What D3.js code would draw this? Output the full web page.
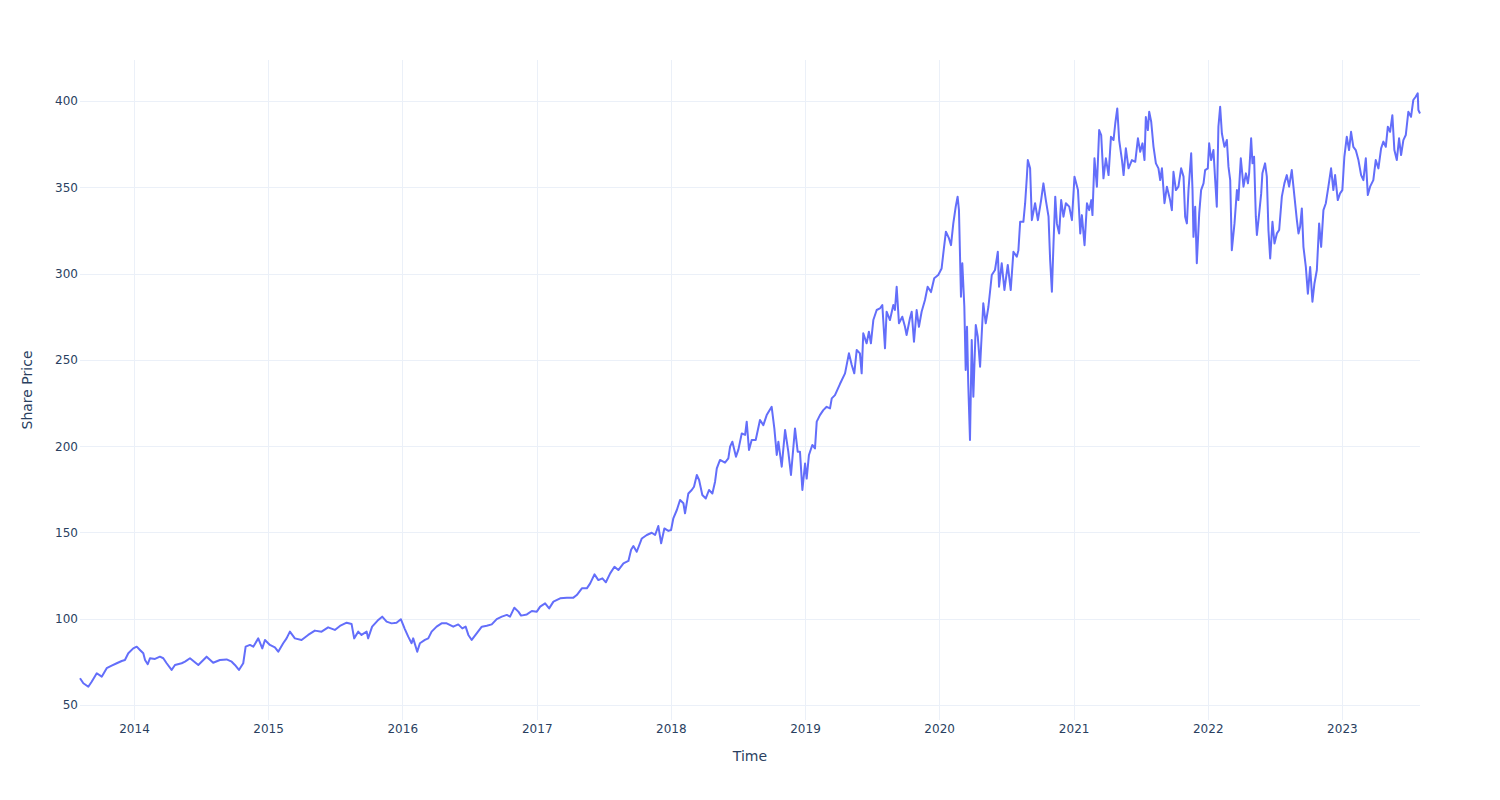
<!DOCTYPE html>
<html>
<head>
<meta charset="utf-8">
<script src="https://cdn.jsdelivr.net/npm/d3@7"></script>
<style>
  html, body { margin: 0; padding: 0; background: #fff; }
  svg { display: block; }
</style>
</head>
<body>
<svg id="chart" width="1500" height="800"></svg>
<script>
// Time as decimal years
const timeYears = [
  2013.590, 2013.615, 2013.652, 2013.677, 2013.715, 2013.752, 2013.789, 2013.826, 2013.864, 2013.901,
  2013.925, 2013.950, 2013.987, 2014.013, 2014.037, 2014.062, 2014.075, 2014.095, 2014.112, 2014.149,
  2014.186, 2014.211, 2014.236, 2014.273, 2014.298, 2014.348, 2014.373, 2014.410, 2014.472, 2014.534,
  2014.583, 2014.633, 2014.683, 2014.721, 2014.745, 2014.775, 2014.807, 2014.825, 2014.857, 2014.882,
  2014.919, 2014.949, 2014.969, 2015.006, 2015.043, 2015.068, 2015.105, 2015.130, 2015.155, 2015.192,
  2015.242, 2015.291, 2015.341, 2015.391, 2015.440, 2015.490, 2015.528, 2015.578, 2015.615, 2015.634,
  2015.664, 2015.689, 2015.727, 2015.738, 2015.768, 2015.809, 2015.843, 2015.876, 2015.913, 2015.950,
  2015.982, 2016.012, 2016.037, 2016.062, 2016.074, 2016.104, 2016.124, 2016.161, 2016.186, 2016.211,
  2016.248, 2016.285, 2016.323, 2016.372, 2016.409, 2016.439, 2016.464, 2016.484, 2016.509, 2016.546,
  2016.584, 2016.621, 2016.658, 2016.695, 2016.733, 2016.770, 2016.794, 2016.826, 2016.856, 2016.876,
  2016.919, 2016.956, 2016.993, 2017.018, 2017.055, 2017.085, 2017.117, 2017.167, 2017.217, 2017.266,
  2017.291, 2017.329, 2017.366, 2017.391, 2017.423, 2017.452, 2017.482, 2017.508, 2017.540, 2017.572,
  2017.601, 2017.639, 2017.676, 2017.696, 2017.713, 2017.738, 2017.776, 2017.813, 2017.850, 2017.875,
  2017.899, 2017.920, 2017.944, 2017.974, 2017.994, 2018.011, 2018.037, 2018.061, 2018.086, 2018.098,
  2018.123, 2018.148, 2018.165, 2018.186, 2018.203, 2018.227, 2018.253, 2018.277, 2018.302, 2018.322,
  2018.335, 2018.359, 2018.396, 2018.421, 2018.434, 2018.451, 2018.478, 2018.496, 2018.521, 2018.546,
  2018.558, 2018.575, 2018.595, 2018.625, 2018.657, 2018.682, 2018.707, 2018.744, 2018.764, 2018.782,
  2018.794, 2018.819, 2018.844, 2018.868, 2018.888, 2018.918, 2018.938, 2018.955, 2018.973, 2018.993,
  2019.005, 2019.022, 2019.047, 2019.067, 2019.080, 2019.104, 2019.129, 2019.154, 2019.179, 2019.192,
  2019.216, 2019.253, 2019.291, 2019.320, 2019.341, 2019.360, 2019.378, 2019.402, 2019.415, 2019.427,
  2019.452, 2019.469, 2019.484, 2019.502, 2019.527, 2019.551, 2019.569, 2019.589, 2019.601, 2019.626,
  2019.651, 2019.663, 2019.676, 2019.693, 2019.718, 2019.738, 2019.750, 2019.775, 2019.788, 2019.805,
  2019.825, 2019.842, 2019.862, 2019.887, 2019.907, 2019.932, 2019.956, 2019.986, 2020.011, 2020.028,
  2020.043, 2020.066, 2020.081, 2020.098, 2020.116, 2020.130, 2020.140, 2020.155, 2020.165, 2020.180,
  2020.190, 2020.200, 2020.209, 2020.222, 2020.235, 2020.247, 2020.265, 2020.280, 2020.297, 2020.321,
  2020.339, 2020.359, 2020.371, 2020.384, 2020.408, 2020.429, 2020.438, 2020.458, 2020.478, 2020.503,
  2020.525, 2020.545, 2020.570, 2020.582, 2020.595, 2020.619, 2020.632, 2020.645, 2020.652, 2020.669,
  2020.682, 2020.706, 2020.727, 2020.751, 2020.768, 2020.786, 2020.806, 2020.818, 2020.831, 2020.843,
  2020.856, 2020.868, 2020.885, 2020.900, 2020.917, 2020.935, 2020.960, 2020.980, 2020.999, 2021.025,
  2021.042, 2021.054, 2021.074, 2021.092, 2021.109, 2021.124, 2021.133, 2021.148, 2021.166, 2021.183,
  2021.198, 2021.215, 2021.233, 2021.253, 2021.271, 2021.290, 2021.303, 2021.318, 2021.332, 2021.353,
  2021.365, 2021.382, 2021.402, 2021.427, 2021.452, 2021.472, 2021.489, 2021.506, 2021.521, 2021.531,
  2021.546, 2021.556, 2021.571, 2021.588, 2021.606, 2021.625, 2021.638, 2021.651, 2021.670, 2021.688,
  2021.712, 2021.725, 2021.737, 2021.755, 2021.774, 2021.794, 2021.812, 2021.824, 2021.837, 2021.849,
  2021.869, 2021.879, 2021.886, 2021.899, 2021.911, 2021.929, 2021.943, 2021.961, 2021.973, 2021.993,
  2022.003, 2022.018, 2022.035, 2022.048, 2022.060, 2022.072, 2022.085, 2022.098, 2022.117, 2022.135,
  2022.147, 2022.160, 2022.172, 2022.192, 2022.210, 2022.221, 2022.239, 2022.259, 2022.277, 2022.292,
  2022.301, 2022.316, 2022.326, 2022.338, 2022.351, 2022.359, 2022.376, 2022.391, 2022.400, 2022.420,
  2022.433, 2022.445, 2022.458, 2022.475, 2022.490, 2022.508, 2022.525, 2022.545, 2022.564, 2022.582,
  2022.599, 2022.619, 2022.639, 2022.657, 2022.669, 2022.681, 2022.694, 2022.706, 2022.724, 2022.739,
  2022.756, 2022.773, 2022.788, 2022.806, 2022.823, 2022.838, 2022.855, 2022.873, 2022.892, 2022.912,
  2022.929, 2022.942, 2022.962, 2022.979, 2022.996, 2023.011, 2023.029, 2023.046, 2023.061, 2023.078,
  2023.096, 2023.116, 2023.136, 2023.153, 2023.171, 2023.186, 2023.203, 2023.227, 2023.245, 2023.265,
  2023.285, 2023.302, 2023.320, 2023.335, 2023.352, 2023.369, 2023.384, 2023.402, 2023.419, 2023.434,
  2023.451, 2023.469, 2023.488, 2023.508, 2023.525, 2023.543, 2023.558, 2023.563, 2023.575
];

// Share price values
const sharePrice = [
  65.5, 62.6, 60.6, 63.5, 68.4, 66.4, 71.3, 72.8, 74.2, 75.5,
  76.1, 80.0, 82.8, 83.8, 81.9, 80.0, 76.1, 73.6, 77.1, 76.7,
  78.0, 77.1, 74.2, 70.3, 73.2, 74.2, 75.1, 77.1, 73.2, 78.0,
  74.5, 76.1, 76.4, 75.1, 73.2, 70.3, 74.2, 83.8, 84.8, 83.8,
  88.6, 82.8, 87.7, 84.8, 83.4, 80.9, 85.8, 88.6, 92.5, 88.6,
  87.7, 90.6, 93.1, 92.5, 95.0, 93.5, 95.8, 97.7, 96.9, 88.6,
  92.5, 90.6, 92.5, 88.6, 95.4, 98.9, 101.2, 98.3, 97.3, 97.7,
  99.7, 94.0, 89.6, 85.8, 88.6, 80.9, 85.8, 87.7, 88.6, 92.5,
  95.4, 97.3, 97.3, 95.4, 96.7, 94.4, 95.4, 90.6, 87.7, 91.5,
  95.4, 95.9, 96.7, 99.8, 101.2, 102.2, 101.2, 106.4, 104.1, 101.8,
  102.5, 104.5, 104.1, 107.0, 108.9, 106.0, 109.9, 111.8, 112.2, 112.2,
  113.7, 117.6, 117.6, 120.5, 125.7, 122.4, 123.4, 121.1, 126.3, 130.1,
  128.2, 132.1, 133.5, 140.0, 142.1, 138.8, 146.5, 148.5, 149.8, 148.5,
  153.7, 143.7, 152.3, 150.9, 151.4, 158.2, 163.0, 168.8, 166.9, 161.1,
  172.6, 174.6, 176.5, 183.3, 180.4, 171.7, 169.7, 174.6, 172.6, 179.4,
  187.1, 192.0, 190.4, 192.9, 199.7, 202.6, 193.9, 198.0, 207.4, 206.5,
  214.2, 197.8, 203.6, 203.6, 215.2, 212.2, 218.0, 222.8, 210.3, 194.9,
  202.6, 188.1, 209.4, 196.8, 183.3, 210.3, 196.8, 196.8, 174.6, 189.9,
  181.2, 194.9, 200.7, 198.7, 214.2, 218.0, 220.9, 222.8, 221.9, 227.7,
  229.6, 236.0, 242.2, 253.8, 247.0, 242.2, 255.7, 253.8, 242.2, 265.4,
  259.6, 266.3, 259.6, 273.1, 278.9, 279.8, 281.8, 256.7, 277.9, 273.1,
  281.8, 278.9, 292.4, 271.2, 275.0, 269.2, 264.4, 274.1, 277.9, 260.5,
  278.9, 269.2, 277.9, 284.7, 292.4, 289.3, 297.3, 299.2, 303.0, 314.6,
  324.3, 320.4, 316.5, 329.1, 338.8, 344.6, 336.8, 286.6, 306.0, 280.8,
  244.1, 269.2, 236.4, 203.6, 261.5, 228.6, 270.2, 263.4, 246.0, 282.8,
  271.2, 280.8, 289.5, 299.2, 302.1, 312.7, 292.4, 306.0, 290.5, 305.0,
  290.5, 312.7, 309.8, 313.6, 330.0, 330.0, 340.8, 356.2, 365.8, 361.0,
  331.0, 340.8, 331.0, 342.6, 352.3, 342.6, 333.0, 307.9, 289.5, 317.5,
  344.6, 329.1, 323.3, 342.6, 333.0, 340.8, 338.8, 331.0, 356.2, 348.4,
  323.3, 333.9, 316.5, 340.8, 336.8, 342.6, 333.9, 366.8, 350.4, 383.2,
  380.3, 355.2, 366.8, 357.1, 379.3, 377.4, 387.0, 395.7, 377.4, 365.8,
  357.1, 372.6, 361.0, 365.8, 364.8, 378.4, 370.6, 375.5, 365.8, 390.7,
  383.2, 393.8, 388.0, 373.6, 363.9, 361.0, 354.2, 361.0, 340.8, 350.4,
  342.6, 336.8, 359.0, 348.4, 350.4, 361.0, 356.2, 333.0, 329.1, 348.4,
  369.7, 348.4, 321.3, 338.8, 306.0, 334.9, 348.4, 352.3, 360.0, 361.0,
  375.5, 365.8, 371.6, 354.2, 338.8, 385.1, 396.7, 381.2, 373.5, 377.4,
  362.0, 354.2, 313.6, 329.1, 348.4, 342.6, 366.8, 350.4, 358.1, 352.3,
  358.1, 378.4, 363.9, 367.7, 333.0, 322.4, 334.9, 346.5, 358.1, 363.9,
  356.2, 325.3, 308.8, 330.0, 317.5, 323.3, 325.3, 344.6, 352.3, 357.1,
  350.4, 360.0, 344.6, 331.0, 323.3, 327.1, 337.8, 315.5, 303.8, 288.4,
  303.8, 283.7, 294.3, 302.1, 329.1, 315.5, 336.8, 340.8, 350.4, 361.0,
  348.4, 357.1, 342.6, 346.5, 348.4, 367.7, 379.3, 371.6, 382.2, 373.5,
  371.6, 365.8, 357.1, 354.2, 366.8, 345.5, 350.4, 354.2, 365.8, 361.0,
  372.6, 376.5, 373.5, 385.1, 382.2, 391.8, 371.6, 365.8, 378.4, 368.7,
  377.4, 380.3, 393.8, 390.9, 400.6, 402.5, 404.5, 394.8, 392.8
];

const yTickValues = [50, 100, 150, 200, 250, 300, 350, 400];
const xTickYears = [2014, 2015, 2016, 2017, 2018, 2019, 2020, 2021, 2022, 2023];
const xTitle = "Time";
const yTitle = "Share Price";

function yearToDate(t) {
  const y = Math.floor(t);
  const s = Date.UTC(y, 0, 1), e = Date.UTC(y + 1, 0, 1);
  return new Date(s + (t - y) * (e - s));
}

const data = timeYears.map((t, i) => ({ date: yearToDate(t), value: sharePrice[i] }));

const svg = d3.select("#chart");
const W = 1500, H = 800;
const margin = { left: 80, right: 80, top: 60, bottom: 80 };
const plotW = W - margin.left - margin.right;
const plotH = H - margin.top - margin.bottom;

const x = d3.scaleUtc()
  .domain(d3.extent(data, d => d.date))
  .range([margin.left, margin.left + plotW]);

const y = d3.scaleLinear()
  .domain([41.3, 423.8])
  .range([margin.top + plotH, margin.top]);

const font = "'DejaVu Sans', verdana, arial, sans-serif";
const textColor = "#2a3f5f";
const gridColor = "#EBF0F8";

svg.append("rect").attr("width", W).attr("height", H).attr("fill", "#fff");

const xTicks = xTickYears.map(yv => new Date(Date.UTC(yv, 0, 1)));

// Grid
const grid = svg.append("g");
grid.selectAll("line.v").data(xTicks).join("line")
  .attr("x1", d => Math.round(x(d)) - 0.5).attr("x2", d => Math.round(x(d)) - 0.5)
  .attr("y1", margin.top).attr("y2", margin.top + plotH)
  .attr("stroke", gridColor).attr("stroke-width", 1);
grid.selectAll("line.h").data(yTickValues).join("line")
  .attr("x1", margin.left).attr("x2", margin.left + plotW)
  .attr("y1", d => Math.round(y(d)) + 0.5).attr("y2", d => Math.round(y(d)) + 0.5)
  .attr("stroke", gridColor).attr("stroke-width", 1);

// Axes
const xAxis = d3.axisBottom(x).tickValues(xTicks).tickSize(0).tickPadding(0)
  .tickFormat(d3.utcFormat("%Y"));
const gx = svg.append("g").attr("transform", `translate(-1,${margin.top + plotH})`).call(xAxis);
gx.select(".domain").remove();
gx.selectAll("text").attr("y", 13).attr("dy", "0").attr("font-family", font)
  .attr("font-size", 12).attr("fill", textColor);

const yAxis = d3.axisLeft(y).tickValues(yTickValues).tickSize(0).tickPadding(2);
const gy = svg.append("g").attr("transform", `translate(${margin.left},0)`).call(yAxis);
gy.select(".domain").remove();
gy.selectAll("text").attr("font-family", font).attr("font-size", 12).attr("fill", textColor);

// Line
const line = d3.line().x(d => x(d.date)).y(d => y(d.value));
svg.append("path").datum(data)
  .attr("d", line)
  .attr("fill", "none")
  .attr("stroke", "#636efa")
  .attr("stroke-width", 2)
  .attr("stroke-linejoin", "round");

// Axis titles
svg.append("text").attr("x", margin.left + plotW / 2).attr("y", 761)
  .attr("text-anchor", "middle").attr("font-family", font).attr("font-size", 14)
  .attr("fill", textColor).text(xTitle);
svg.append("text")
  .attr("transform", `translate(32,${margin.top + plotH / 2}) rotate(-90)`)
  .attr("text-anchor", "middle").attr("font-family", font).attr("font-size", 14)
  .attr("fill", textColor).text(yTitle);
</script>
</body>
</html>
